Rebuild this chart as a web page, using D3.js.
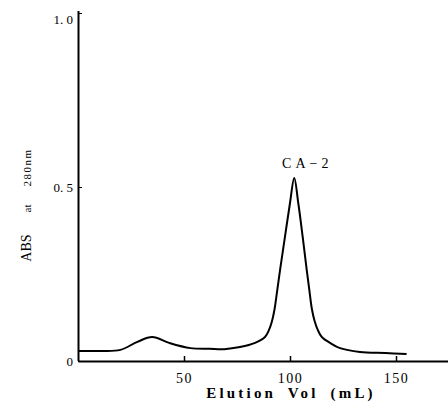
<!DOCTYPE html>
<html>
<head>
<meta charset="utf-8">
<script src="https://cdn.jsdelivr.net/npm/d3@7"></script>
<style>
  body { margin: 0; background: #fff; }
  svg { display: block; }
  text { font-family: "Liberation Serif", "DejaVu Serif", serif; fill: #000; }
</style>
</head>
<body>
<svg id="chart" width="448" height="411"></svg>
<script>
// elution profile
const volume = [0, 10, 20, 28, 35, 43, 53, 62, 69, 76.4, 83.5, 88.2, 90, 91.4, 92.6, 93.8, 95.3, 97.6, 100, 102, 103.9, 106, 107.9, 109.2, 110.3, 111.6, 113.2, 115, 118.9, 123.6, 133, 145, 155];
const absorb = [0.029, 0.029, 0.032, 0.055, 0.069, 0.052, 0.037, 0.035, 0.034, 0.040, 0.052, 0.069, 0.088, 0.112, 0.145, 0.195, 0.261, 0.356, 0.454, 0.526, 0.454, 0.356, 0.261, 0.200, 0.150, 0.115, 0.088, 0.069, 0.052, 0.037, 0.026, 0.023, 0.02];
const xTicks = [50, 100, 150];
const yTicks = [0, 0.5, 1.0];
const yTickLabels = ['0', '0. 5', '1. 0'];

const svg = d3.select('svg#chart');

const x = d3.scaleLinear().domain([0, 175]).range([78, 449]);
const y = d3.scaleLinear().domain([0, 1]).range([361, 13]);

// x axis, ticks point up into the plot
const xAxis = svg.append('g')
  .attr('transform', `translate(0,${y(0)})`)
  .call(d3.axisBottom(x).tickValues(xTicks).tickSize(-5).tickPadding(9).tickSizeOuter(0));
xAxis.select('.domain').attr('stroke-width', 2);
xAxis.selectAll('.tick line').attr('stroke-width', 1.5);
xAxis.selectAll('text')
  .style('font-size', '14px')
  .style('letter-spacing', '1.5px')
  .attr('dy', '0.9em');

// y axis, ticks point right
const yAxis = svg.append('g')
  .attr('transform', `translate(${x(0)},0)`)
  .call(d3.axisLeft(y).tickValues(yTicks).tickFormat((d, i) => yTickLabels[i])
    .tickSize(-4).tickPadding(5).tickSizeOuter(0));
yAxis.select('.domain').attr('stroke-width', 2);
yAxis.select('.domain').attr('d', `M0.5,${y(0)}V${y(1) - 2}`);
yAxis.selectAll('text').style('font-size', '13px');
yAxis.selectAll('.tick').filter(d => d === 1).select('text').attr('dy', '0.8em');

const line = d3.line()
  .x((d, i) => x(volume[i]))
  .y(d => y(d))
  .curve(d3.curveCatmullRom.alpha(0.5));

svg.append('path')
  .datum(absorb)
  .attr('fill', 'none')
  .attr('stroke', '#000')
  .attr('stroke-width', 2)
  .attr('d', line);

// peak label
svg.append('text')
  .attr('x', x(102) + 13)
  .attr('y', y(0.526) - 10)
  .attr('text-anchor', 'middle')
  .style('font-size', '14px')
  .style('letter-spacing', '4px')
  .text('CA\u22122');

// axis titles
svg.append('text')
  .attr('x', 291)
  .attr('y', 398)
  .attr('text-anchor', 'middle')
  .style('font-size', '15px')
  .style('font-weight', 'bold')
  .style('letter-spacing', '3.2px')
  .style('word-spacing', '5px')
  .text('Elution Vol (mL)');

const yt = svg.append('text')
  .attr('transform', 'translate(31,205) rotate(-90)')
  .attr('text-anchor', 'middle');
yt.append('tspan').style('font-size', '14px').text('ABS');
yt.append('tspan').style('font-size', '11px').attr('dx', 22).text('at');
yt.append('tspan').style('font-size', '11px').attr('dx', 18)
  .style('letter-spacing', '1.5px').text('280nm');
</script>
</body>
</html>
